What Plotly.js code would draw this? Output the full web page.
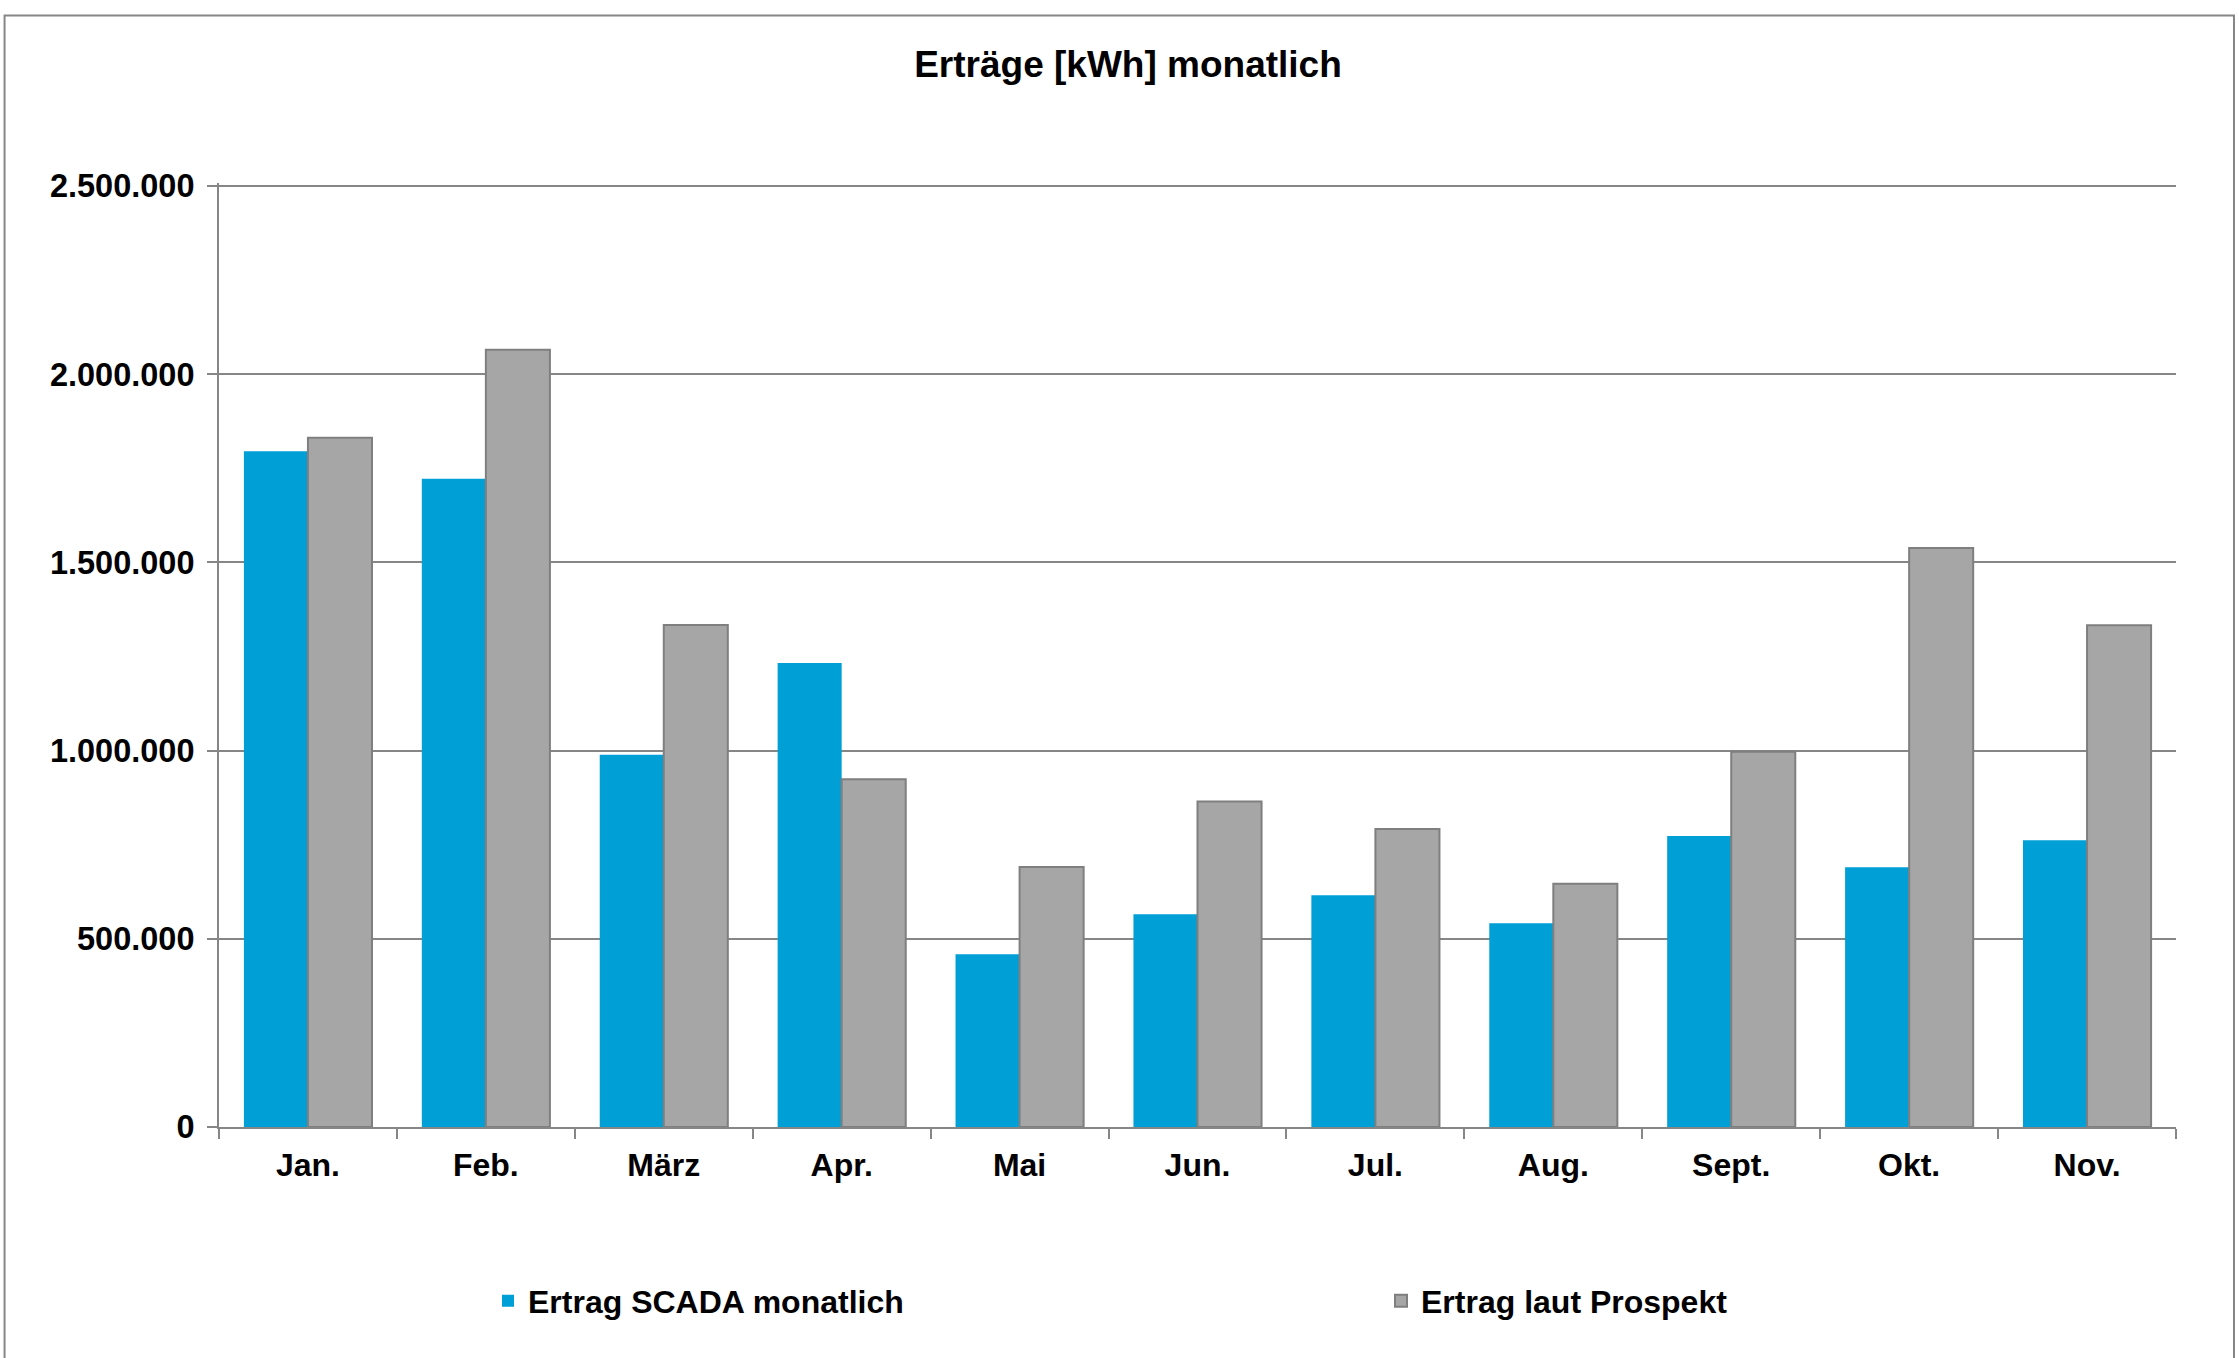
<!DOCTYPE html>
<html>
<head>
<meta charset="utf-8">
<script src="https://cdn.plot.ly/plotly-3.0.1.min.js"></script>
<style>html,body{margin:0;padding:0;background:#fff;}#chart{width:2239px;height:1358px;}</style>
</head>
<body>
<div id="chart"></div>
<script>
const months = ['Jan.', 'Feb.', 'März', 'Apr.', 'Mai', 'Jun.', 'Jul.', 'Aug.', 'Sept.', 'Okt.', 'Nov.'];
const scadaMonthly = [1795000, 1722000, 989000, 1233000, 459000, 565000, 616000, 541000, 773000, 690000, 762000];
const prospectYield = [1831000, 2065000, 1334000, 924000, 691000, 865000, 792000, 646000, 997000, 1538000, 1333000];
const yTickValues = [0, 500000, 1000000, 1500000, 2000000, 2500000];

const W = 2239, H = 1358;
const plotL = 218.5, plotR = 2176, plotB = 1126.7;
const topGridY = 185.6;               // pixel row of the 2.500.000 gridline
const plotT = topGridY - 3;           // a little headroom so the top gridline is drawn
const yMax = 2500000 * (plotB - plotT) / (plotB - topGridY);
const pw = plotR - plotL, ph = plotB - plotT;
const boldFont = {family: 'Liberation Sans, Arial, sans-serif', weight: 'bold', color: '#000000'};
const grey = '#868686';

const traces = [
  {
    type: 'bar', name: 'Ertrag SCADA monatlich', x: months, y: scadaMonthly,
    marker: {color: '#009FD6', line: {width: 0}}
  },
  {
    type: 'bar', name: 'Ertrag laut Prospekt', x: months, y: prospectYield,
    marker: {color: '#A6A6A6', line: {width: 2, color: '#7F7F7F'}}
  }
];

const layout = {
  width: W, height: H,
  paper_bgcolor: '#ffffff', plot_bgcolor: '#ffffff',
  separators: ',.',
  margin: {l: plotL, r: W - plotR, t: plotT, b: H - plotB, pad: 0},
  barmode: 'group', bargap: 0.28, bargroupgap: 0,
  title: {
    text: 'Erträge [kWh] monatlich',
    font: Object.assign({}, boldFont, {size: 37}),
    xref: 'container', x: 1128 / W, xanchor: 'center',
    yref: 'container', y: 1 - 64 / H, yanchor: 'middle'
  },
  xaxis: {
    type: 'category',
    showline: true, linecolor: grey, linewidth: 2,
    ticks: 'outside', tickson: 'boundaries', ticklen: 10, tickwidth: 2, tickcolor: grey,
    tickfont: Object.assign({}, boldFont, {size: 32}),
    ticklabelstandoff: 9,
    showgrid: false, zeroline: false, fixedrange: true
  },
  yaxis: {
    range: [0, yMax], tickvals: yTickValues, tickformat: ',.0f',
    showline: true, linecolor: grey, linewidth: 2,
    ticks: 'outside', ticklen: 10, tickwidth: 2, tickcolor: grey,
    showgrid: true, gridcolor: grey, gridwidth: 2,
    zeroline: false,
    tickfont: Object.assign({}, boldFont, {size: 32.5}),
    ticklabelstandoff: 6, fixedrange: true
  },
  showlegend: true,
  legend: {
    orientation: 'h',
    xref: 'container', yref: 'container',
    x: 488 / W, xanchor: 'left',
    y: 1 - 1301 / H, yanchor: 'middle',
    entrywidth: 848, entrywidthmode: 'pixels',
    font: Object.assign({}, boldFont, {size: 32}),
    bgcolor: 'rgba(0,0,0,0)', borderwidth: 0, traceorder: 'normal'
  },
  shapes: [
    {
      type: 'rect', xref: 'paper', yref: 'paper',
      x0: (4 - plotL) / pw, x1: (2234 - plotL) / pw,
      y0: (plotB - 1375) / ph, y1: (plotB - 15) / ph,
      line: {color: grey, width: 2}, fillcolor: 'rgba(0,0,0,0)', layer: 'below'
    }
  ]
};

Plotly.newPlot('chart', traces, layout, {staticPlot: true, displayModeBar: false});
</script>
</body>
</html>
